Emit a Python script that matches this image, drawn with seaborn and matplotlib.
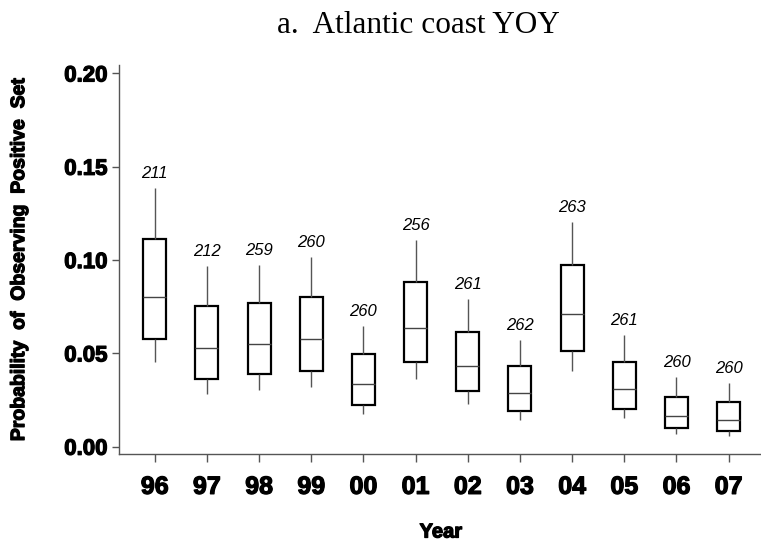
import numpy as np
import pandas as pd
import matplotlib.pyplot as plt
import matplotlib.patheffects as pe
import seaborn as sns


# =====================================
# DATA
# =====================================

years = ["96", "97", "98", "99", "00", "01", "02", "03", "04", "05", "06", "07"]

whisker_low = [0.0456, 0.0282, 0.0304, 0.0318, 0.0173, 0.0361,
               0.0229, 0.0143, 0.0407, 0.0154, 0.0068, 0.0057]
q1 = [0.0575, 0.0364, 0.0388, 0.0405, 0.0225, 0.0456,
      0.0300, 0.0191, 0.0513, 0.0204, 0.0100, 0.0084]
median = [0.0804, 0.0527, 0.0548, 0.0575, 0.0336, 0.0638,
          0.0431, 0.0289, 0.0709, 0.0307, 0.0164, 0.0141]
q3 = [0.1113, 0.0755, 0.0768, 0.0804, 0.0495, 0.0884,
      0.0616, 0.0432, 0.0972, 0.0456, 0.0268, 0.0238]
whisker_high = [0.1388, 0.0968, 0.0972, 0.1015, 0.0647, 0.1107,
                0.0791, 0.0570, 0.1205, 0.0598, 0.0372, 0.0340]

sample_sizes = [211, 212, 259, 260, 260, 256, 261, 262, 263, 261, 260, 260]

y_ticks = [0.00, 0.05, 0.10, 0.15, 0.20]


# =====================================
# LONG FORM TABLE (5 points per year)
# =====================================

rows = []

for i, year in enumerate(years):

    for value in (whisker_low[i], q1[i], median[i], q3[i], whisker_high[i]):

        rows.append({"Year": year, "Probability": value})

df = pd.DataFrame(rows)


# =====================================
# PLOT
# =====================================

sns.set_theme(style="ticks")

plt.rcParams["font.family"] = ["Liberation Sans", "DejaVu Sans"]
plt.rcParams["text.color"] = "black"
plt.rcParams["axes.labelcolor"] = "black"
plt.rcParams["xtick.labelcolor"] = "black"
plt.rcParams["ytick.labelcolor"] = "black"

# heavy look for the bold sans labels
heavy = [pe.withStroke(linewidth=0.9, foreground="black")]

fig = plt.figure(figsize=(7.61, 5.44), dpi=100)

ax = fig.add_axes([0.156, 0.1654, 0.844, 0.715])

sns.boxplot(
    data=df,
    x="Year",
    y="Probability",
    order=years,
    whis=(0, 100),
    width=0.44,
    color="white",
    linecolor="black",
    showcaps=False,
    boxprops=dict(linewidth=1.6, edgecolor="black", facecolor="white"),
    whiskerprops=dict(linewidth=1.0, color="#555555"),
    medianprops=dict(linewidth=1.0, color="#444444"),
    ax=ax
)

for i, n in enumerate(sample_sizes):

    ax.annotate(
        str(n),
        (i, whisker_high[i]),
        xytext=(0, 10.5),
        textcoords="offset points",
        ha="center",
        va="center",
        fontsize=12,
        fontstyle="italic"
    )

ax.set_ylim(-0.0039, 0.2045)
ax.set_xlim(-0.69, 11.62)

ax.set_yticks(y_ticks)
ax.set_yticklabels([f"{t:.2f}" for t in y_ticks])

ax.tick_params(axis="y", length=5, width=1, color="#555555", pad=3,
               labelsize=16)
ax.tick_params(axis="x", length=6, width=1, color="#555555", pad=9,
               labelsize=18)

for label in ax.get_xticklabels() + ax.get_yticklabels():

    label.set_fontweight("bold")
    label.set_path_effects(heavy)

for side in ("left", "bottom"):

    ax.spines[side].set_color("#555555")
    ax.spines[side].set_linewidth(1.0)

sns.despine(ax=ax)

ax.set_xlabel("Year", fontsize=14.5, fontweight="bold", va="center",
              path_effects=heavy)
ax.set_ylabel("Probability  of  Observing  Positive  Set",
              fontsize=14, fontweight="bold", va="center",
              path_effects=heavy)

ax.xaxis.set_label_coords((441 - 119) / 642, -(532 - 454) / 389)
ax.yaxis.set_label_coords(-(119 - 20) / 642, 0.5)

fig.text(
    418 / 761,
    1 - 33 / 544,
    "a.  Atlantic coast YOY",
    ha="center",
    va="baseline",
    fontsize=22.5,
    family=["Liberation Serif", "DejaVu Serif"]
)

plt.savefig("out.png", dpi=100)

plt.close()
